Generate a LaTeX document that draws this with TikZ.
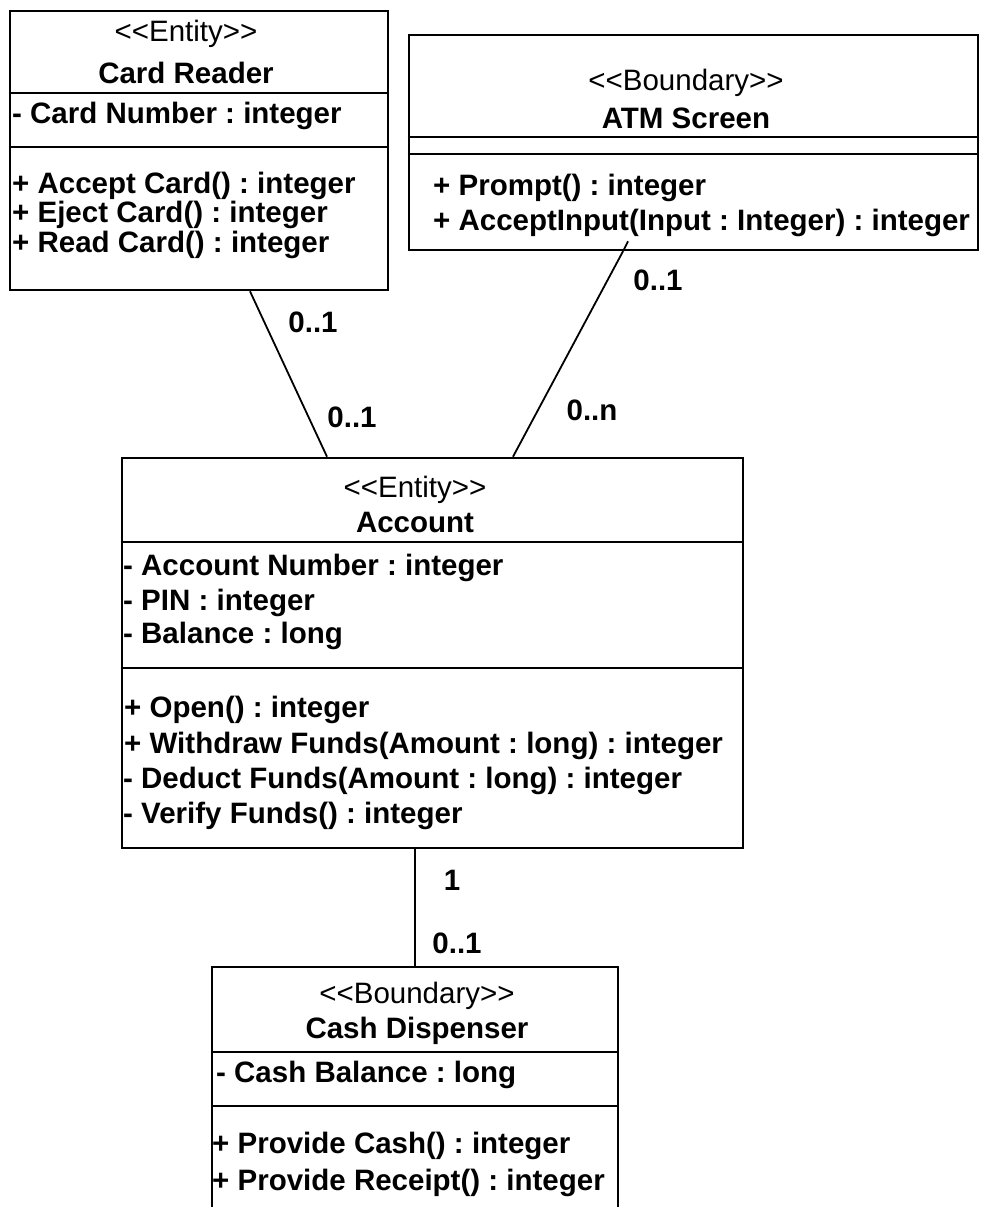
\documentclass[tikz,border=0pt]{standalone}
\usepackage{fontspec}
\setmainfont{Liberation Sans}
\usetikzlibrary{positioning, calc}
\newcommand{\umlfont}{\fontsize{29.5}{35}\selectfont\frenchspacing}
\tikzset{
  classbox/.style={draw, rectangle, line width=2.6pt, inner sep=0pt},
  divider/.style={line width=2.6pt},
  assoc/.style={line width=1.8pt},
  stereo/.style={anchor=base, inner sep=0pt, font=\umlfont},
  cname/.style={anchor=base, inner sep=0pt, font=\umlfont\bfseries},
  member/.style={anchor=base west, inner sep=0pt, font=\umlfont\bfseries},
  mult/.style={anchor=base, inner sep=0pt, font=\umlfont\bfseries}
}

\begin{document}
\begin{tikzpicture}[x=1pt, y=-1pt]
  \useasboundingbox (0,0) rectangle (982,1207);
  \clip (0,0) rectangle (982,1207);

  % Card Reader
  \node[classbox, minimum width=378pt, minimum height=279pt] (cardreader) at (199,150.5) {};
  \draw[divider] (cardreader.west |- 0,93) -- (cardreader.east |- 0,93);
  \draw[divider] (cardreader.west |- 0,147) -- (cardreader.east |- 0,147);
  \node[stereo] (cr-st) at (186,42) {<{}<Entity>{}>};
  \node[cname] (cr-name) at (186,83) {Card Reader};
  \node[member] (cr-a1) at (12,123) {- Card Number : integer};
  \node[member] (cr-m1) at (12,193) {+ Accept Card() : integer};
  \node[member] (cr-m2) at (12,222) {+ Eject Card() : integer};
  \node[member] (cr-m3) at (12,252) {+ Read Card() : integer};

  % ATM Screen
  \node[classbox, minimum width=569pt, minimum height=215pt] (atmscreen) at (693.5,142.5) {};
  \draw[divider] (atmscreen.west |- 0,137) -- (atmscreen.east |- 0,137);
  \draw[divider] (atmscreen.west |- 0,154) -- (atmscreen.east |- 0,154);
  \node[stereo] (atm-st) at (686,90) {<{}<Boundary>{}>};
  \node[cname] (atm-name) at (686,128) {ATM Screen};
  \node[member] (atm-m1) at (433,195) {+ Prompt() : integer};
  \node[member] (atm-m2) at (433,230) {+ AcceptInput(Input : Integer) : integer};

  % Account
  \node[classbox, minimum width=621pt, minimum height=390pt] (account) at (432.5,653) {};
  \draw[divider] (account.west |- 0,542) -- (account.east |- 0,542);
  \draw[divider] (account.west |- 0,668) -- (account.east |- 0,668);
  \node[stereo] (acc-st) at (415,497) {<{}<Entity>{}>};
  \node[cname] (acc-name) at (415,532) {Account};
  \node[member] (acc-a1) at (123,575) {- Account Number : integer};
  \node[member] (acc-a2) at (123,610) {- PIN : integer};
  \node[member] (acc-a3) at (123,643) {- Balance : long};
  \node[member] (acc-m1) at (124,717) {+ Open() : integer};
  \node[member] (acc-m2) at (124,753) {+ Withdraw Funds(Amount : long) : integer};
  \node[member] (acc-m3) at (123,788) {- Deduct Funds(Amount : long) : integer};
  \node[member] (acc-m4) at (123,823) {- Verify Funds() : integer};

  % Cash Dispenser
  \node[classbox, minimum width=406pt, minimum height=270pt] (cashdisp) at (415,1102) {};
  \draw[divider] (cashdisp.west |- 0,1052) -- (cashdisp.east |- 0,1052);
  \draw[divider] (cashdisp.west |- 0,1106) -- (cashdisp.east |- 0,1106);
  \node[stereo] (cd-st) at (417,1003) {<{}<Boundary>{}>};
  \node[cname] (cd-name) at (417,1038) {Cash Dispenser};
  \node[member] (cd-a1) at (216,1082) {- Cash Balance : long};
  \node[member] (cd-m1) at (212,1153) {+ Provide Cash() : integer};
  \node[member] (cd-m2) at (212,1190) {+ Provide Receipt() : integer};

  % associations
  \draw[assoc] ([xshift=51pt]cardreader.south) -- ([xshift=-105.5pt]account.north);
  \draw[assoc] ([xshift=-70.5pt]atmscreen.south) -- ([xshift=80.5pt]account.north);
  \draw[assoc] ([xshift=-70.5pt]atmscreen.south) -- ++(5,-10);
  \draw[assoc] ([xshift=-17.5pt]account.south) -- (cashdisp.north);

  \node[mult] (m-cr) at (313,332) {0..1};
  \node[mult] (m-acc1) at (352,427) {0..1};
  \node[mult] (m-atm) at (658,290) {0..1};
  \node[mult] (m-acc2) at (592,420) {0..n};
  \node[mult] (m-acc3) at (452,890) {1};
  \node[mult] (m-cd) at (457,953) {0..1};
\end{tikzpicture}
\end{document}
